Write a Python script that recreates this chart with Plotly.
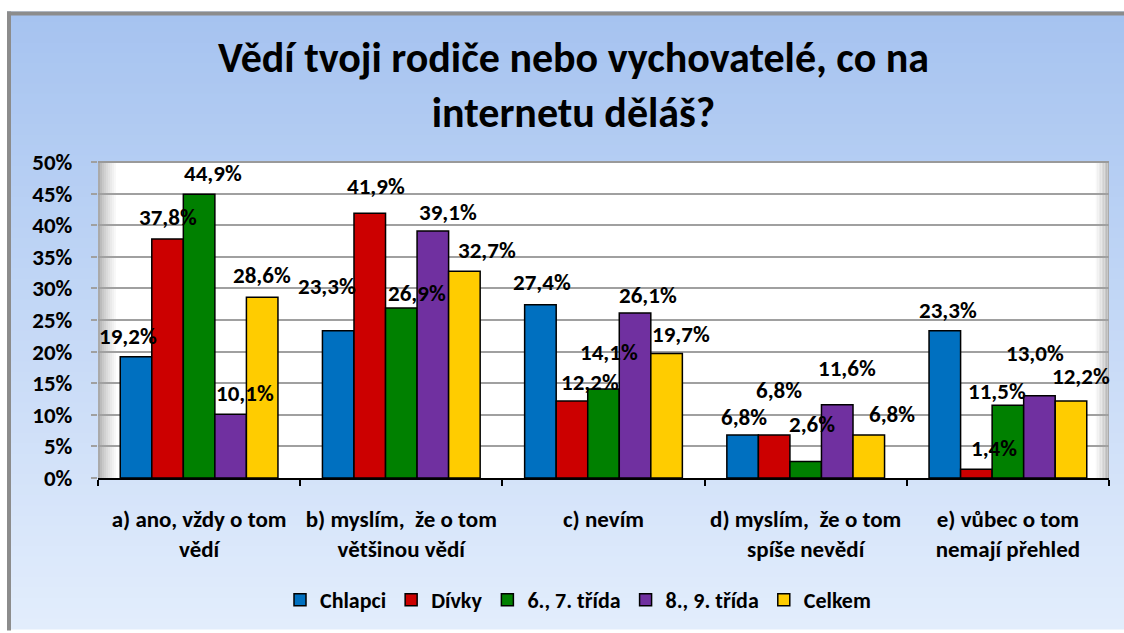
import plotly.graph_objects as go

categories = [
    "a) ano, vždy o tom<br>vědí",
    "b) myslím,  že o tom<br>většinou vědí",
    "c) nevím",
    "d) myslím,  že o tom<br>spíše nevědí",
    "e) vůbec o tom<br>nemají přehled",
]
series_names = ["Chlapci", "Dívky", "6., 7. třída", "8., 9. třída", "Celkem"]
chlapci = [19.2, 23.3, 27.4, 6.8, 23.3]
divky = [37.8, 41.9, 12.2, 6.8, 1.4]
trida67 = [44.9, 26.9, 14.1, 2.6, 11.5]
trida89 = [10.1, 39.1, 26.1, 11.6, 13.0]
celkem = [28.6, 32.7, 19.7, 6.8, 12.2]
y_ticks = [0, 5, 10, 15, 20, 25, 30, 35, 40, 45, 50]
y_tick_labels = [f"{v}%" for v in y_ticks]

series_values = [chlapci, divky, trida67, trida89, celkem]
colors = ["#0070C0", "#CC0000", "#008000", "#7030A0", "#FFCC00"]

# label placement tweaks (pixels), per series then per category
label_dy = [[21, 45, 23, 18, 21],
            [22, 27, 19, 45, 21],
            [21, 15, 37, 38, 14],
            [21, 19, 18, 37, 43],
            [22, 21, 20, 21, 25]]
label_dx = [[-8, -11, 2, 1, 3],
            [0, 6, 18, 5, 18],
            [14, 16, 5, 6, -11],
            [14, 15, 13, 10, -4],
            [0, 23, 14, 23, 10]]

W, H = 1124, 633
ml, mr, mt, mb = 98, 15, 162, 152
pw, ph = W - ml - mr, H - mt - mb
FONT = "Carlito, Lato, 'Open Sans', sans-serif"


def px(xpix):
    return (xpix - ml) / pw


def py(ypix):
    return (H - mb - ypix) / ph


xs = list(range(len(categories)))
bargap = 0.22
bw = (1 - bargap) / len(series_names)

fig = go.Figure()
for j, (name, vals, col) in enumerate(zip(series_names, series_values, colors)):
    fig.add_trace(go.Bar(
        x=xs, y=vals, name=name,
        marker=dict(color=col, line=dict(color="black", width=1.5)),
        hoverinfo="y+name",
    ))

annotations = []
for j, vals in enumerate(series_values):
    for i, v in enumerate(vals):
        annotations.append(dict(
            x=i + (j - 2) * bw, y=v, xref="x", yref="y",
            text=f"{v:.1f}".replace(".", ",") + "%",
            showarrow=False, yanchor="middle", xanchor="center",
            yshift=label_dy[j][i], xshift=label_dx[j][i],
            font=dict(family=FONT, size=23, color="black", weight=700),
        ))

# title
annotations.append(dict(
    x=px(573), y=py(84), xref="paper", yref="paper",
    text="Vědí tvoji rodiče nebo vychovatelé, co na<br>internetu děláš?",
    showarrow=False, xanchor="center", yanchor="middle",
    font=dict(family=FONT, size=42, color="black", weight=700),
))

shapes = []
# background gradient of the chart area
top_c = (166, 195, 240)
bot_c = (226, 237, 252)
y0p, y1p = 10, H
n = 60
for k in range(n):
    t = k / (n - 1)
    c = tuple(round(top_c[q] + (bot_c[q] - top_c[q]) * t) for q in range(3))
    ya = y0p + (y1p - y0p) * k / n
    yb = y0p + (y1p - y0p) * (k + 1) / n + 1
    shapes.append(dict(type="rect", xref="paper", yref="paper", layer="below",
                       x0=px(7), x1=px(W + 2), y0=py(ya), y1=py(yb),
                       fillcolor=f"rgb{c}", line=dict(width=0)))
# frame border top/left
shapes.append(dict(type="rect", xref="paper", yref="paper", layer="below",
                   x0=px(7), x1=px(W + 2), y0=py(10), y1=py(14),
                   fillcolor="#8C8C8C", line=dict(width=0)))
shapes.append(dict(type="rect", xref="paper", yref="paper", layer="below",
                   x0=px(7), x1=px(11), y0=py(10), y1=py(H + 2),
                   fillcolor="#8C8C8C", line=dict(width=0)))
# plot area white wall
shapes.append(dict(type="rect", xref="paper", yref="paper", layer="below",
                   x0=0, x1=1, y0=0, y1=1,
                   fillcolor="white", line=dict(width=0)))
# wall shading on left and right edges
for k in range(10):
    g = round(170 + (255 - 170) * (k / 9) ** 0.7)
    shapes.append(dict(type="rect", xref="paper", yref="paper", layer="below",
                       x0=px(98 + 2 * k), x1=px(100 + 2 * k), y0=0, y1=1,
                       fillcolor=f"rgb({g},{g},{g})", line=dict(width=0)))
    shapes.append(dict(type="rect", xref="paper", yref="paper", layer="below",
                       x0=px(1109 - 1.5 * (k + 1)), x1=px(1109 - 1.5 * k), y0=0, y1=1,
                       fillcolor=f"rgb({g},{g},{g})", line=dict(width=0)))
# top edge of wall
shapes.append(dict(type="line", xref="paper", yref="paper", layer="below",
                   x0=0, x1=1, y0=1, y1=1, line=dict(color="#9A9A9A", width=2)))

fig.update_layout(
    width=W, height=H,
    margin=dict(l=ml, r=mr, t=mt, b=mb),
    paper_bgcolor="white",
    plot_bgcolor="rgba(0,0,0,0)",
    barmode="group", bargap=bargap, bargroupgap=0,
    font=dict(family=FONT, size=16, color="black"),
    showlegend=True,
    legend=dict(orientation="h", x=px(578), xanchor="center", y=py(604), yanchor="middle",
                bgcolor="rgba(0,0,0,0)",
                font=dict(family=FONT, size=22, color="black", weight=700),
                itemwidth=30, tracegroupgap=0),
    xaxis=dict(
        range=[-0.5, len(categories) - 0.5],
        tickvals=xs, ticktext=categories,
        ticks="", showgrid=False, zeroline=False,
        showline=True, linecolor="black", linewidth=1.5,
        tickfont=dict(family=FONT, size=23, color="black", weight=700),
        ticklabelstandoff=20,
        minor=dict(tickvals=[x - 0.5 for x in range(len(categories) + 1)],
                   ticks="outside", ticklen=6, tickcolor="black", tickwidth=1.5,
                   showgrid=False),
        fixedrange=True,
    ),
    yaxis=dict(
        range=[0, 50], tickvals=y_ticks, ticktext=y_tick_labels,
        showgrid=True, gridcolor="#A0A0A0", gridwidth=2,
        zeroline=False, showline=False,
        ticks="outside", ticklen=6, tickcolor="#A0A0A0", tickwidth=2,
        tickfont=dict(family=FONT, size=23, color="black", weight=700),
        ticklabelstandoff=14,
        fixedrange=True,
    ),
    shapes=shapes,
    annotations=annotations,
)

fig.write_html("out.html",
               config={"displayModeBar": False},
               post_script="document.body.style.margin='0';document.body.style.padding='0';")
